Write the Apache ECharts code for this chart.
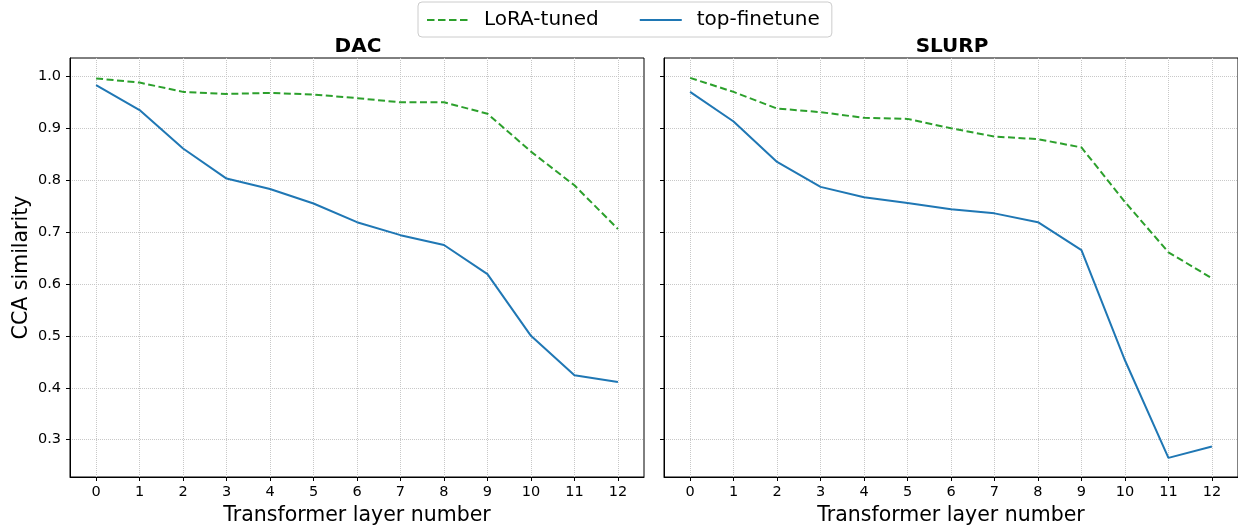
<!DOCTYPE html>
<html>
<head>
<meta charset="utf-8">
<script src="https://cdn.jsdelivr.net/npm/echarts@6/dist/echarts.min.js"></script>
<style>
  html, body { margin: 0; padding: 0; background: #fff; }
  #chart { width: 1238px; height: 527px; }
</style>
</head>
<body>
<div id="chart"></div>
<script>
// Transformer layers 0..12
const layers = [0, 1, 2, 3, 4, 5, 6, 7, 8, 9, 10, 11, 12];

// CCA similarity per layer, DAC task
const dacLora = [0.996, 0.988, 0.970, 0.966, 0.968, 0.965, 0.958, 0.950, 0.950, 0.928, 0.855, 0.790, 0.706];
const dacTop  = [0.983, 0.935, 0.861, 0.803, 0.783, 0.755, 0.719, 0.694, 0.675, 0.619, 0.500, 0.424, 0.411];

// CCA similarity per layer, SLURP task
const slurpLora = [0.997, 0.970, 0.938, 0.931, 0.920, 0.918, 0.900, 0.884, 0.879, 0.863, 0.758, 0.661, 0.611];
const slurpTop  = [0.970, 0.913, 0.835, 0.787, 0.767, 0.756, 0.744, 0.736, 0.719, 0.665, 0.453, 0.265, 0.287];

const yTicks = [0.3, 0.4, 0.5, 0.6, 0.7, 0.8, 0.9, 1.0];
const panelTitles = ['DAC', 'SLURP'];
const seriesNames = ['LoRA-tuned', 'top-finetune'];

const FONT = 'DejaVu Sans';
const GREEN = '#2ca02c';
const BLUE = '#1f77b4';
const DASH = [7, 3.5];

const pairs = (ys) => layers.map((x, i) => [x, ys[i]]);

const gridLine = { show: true, lineStyle: { color: '#c8c8c8', type: [1, 1], width: 1 } };

function xAxis(gi) {
  return {
    type: 'value', gridIndex: gi, min: -0.6, max: 12.6,
    name: 'Transformer layer number', nameLocation: 'middle', nameGap: 27,
    nameTextStyle: { fontFamily: FONT, fontSize: 20.5, color: '#000' },
    axisLine: { show: true, onZero: false, lineStyle: { color: '#000', width: 1 } },
    axisTick: { show: true, inside: false, length: 4, customValues: layers, lineStyle: { color: '#000' } },
    axisLabel: { show: true, customValues: layers, margin: 8, fontFamily: FONT, fontSize: 14.5, color: '#000' },
    splitLine: gridLine
  };
}

function yAxis(gi, showLabels) {
  return {
    type: 'value', gridIndex: gi, min: 0.2281, max: 1.0353,
    name: showLabels ? 'CCA similarity' : '', nameLocation: 'middle', nameGap: 38,
    nameTextStyle: { fontFamily: FONT, fontSize: 20.5, color: '#000' },
    axisLine: { show: true, onZero: false, lineStyle: { color: '#000', width: 1 } },
    axisTick: { show: true, inside: false, length: 4, customValues: yTicks, lineStyle: { color: '#000' } },
    axisLabel: {
      show: showLabels, customValues: yTicks, margin: 9,
      fontFamily: FONT, fontSize: 14.5, color: '#000',
      formatter: (v) => v.toFixed(1)
    },
    splitLine: gridLine
  };
}

function line(name, data, gi, color, dashed) {
  return {
    name, type: 'line', xAxisIndex: gi, yAxisIndex: gi,
    data: pairs(data), symbol: 'none', silent: true, animation: false,
    lineStyle: { color, width: 2, type: dashed ? DASH : 'solid' },
    itemStyle: { color },
    z: dashed ? 3 : 2
  };
}

const gridBox = { show: true, borderColor: '#000', borderWidth: 1, outerBoundsMode: 'none', containLabel: false };

const chart = echarts.init(document.getElementById('chart'), null, { renderer: 'canvas' });
chart.setOption({
  animation: false,
  backgroundColor: '#fff',
  title: [
    { text: panelTitles[0], left: 353, top: 32, textAlign: 'center',
      textStyle: { fontFamily: FONT, fontSize: 20, fontWeight: 'bold', color: '#000' } },
    { text: panelTitles[1], left: 947, top: 32, textAlign: 'center',
      textStyle: { fontFamily: FONT, fontSize: 20, fontWeight: 'bold', color: '#000' } }
  ],
  legend: {
    data: [
      { name: seriesNames[0], lineStyle: { color: GREEN, width: 2, type: [7.5, 3.5] } },
      { name: seriesNames[1], lineStyle: { color: BLUE, width: 2, type: 'solid' } }
    ],
    left: 418, top: 2,
    orient: 'horizontal', itemWidth: 42, itemHeight: 14, itemGap: 40,
    padding: [6, 12, 5, 8],
    borderColor: '#cccccc', borderWidth: 1, borderRadius: 4,
    itemStyle: { opacity: 0 },
    textStyle: { fontFamily: FONT, fontSize: 20, color: '#000', lineHeight: 24, padding: [0, 0, 0, 10] }
  },
  grid: [
    Object.assign({ left: 70, top: 58, width: 574, height: 419 }, gridBox),
    Object.assign({ left: 664, top: 58, width: 574, height: 419 }, gridBox)
  ],
  xAxis: [xAxis(0), xAxis(1)],
  yAxis: [yAxis(0, true), yAxis(1, false)],
  series: [
    line(seriesNames[0], dacLora, 0, GREEN, true),
    line(seriesNames[1], dacTop, 0, BLUE, false),
    line(seriesNames[0], slurpLora, 1, GREEN, true),
    line(seriesNames[1], slurpTop, 1, BLUE, false)
  ]
});
</script>
</body>
</html>
